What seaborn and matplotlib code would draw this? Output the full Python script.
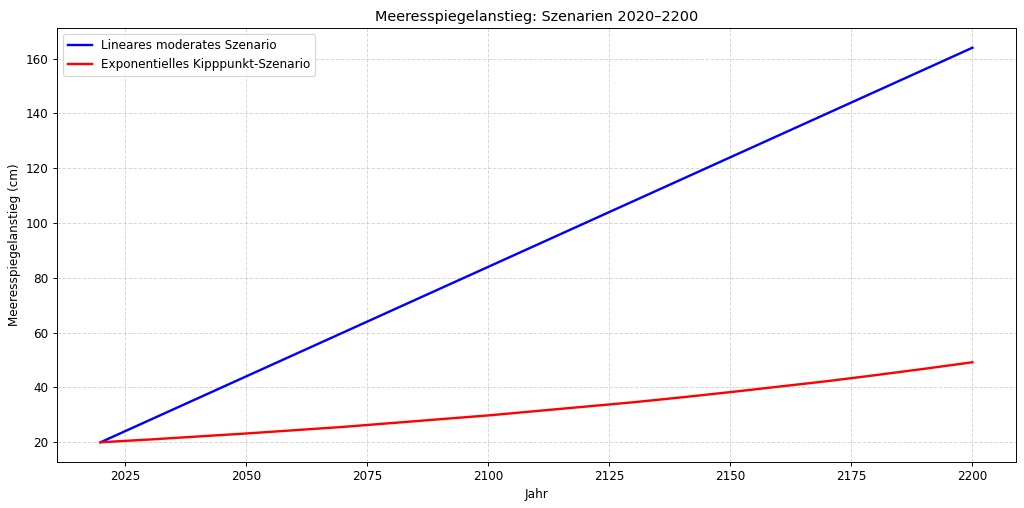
import numpy as np
import pandas as pd
import seaborn as sns
import matplotlib.pyplot as plt

jahre = [2020, 2030, 2040, 2050, 2060, 2070, 2080, 2090, 2100, 2110,
         2120, 2130, 2140, 2150, 2160, 2170, 2180, 2190, 2200]
linear_cm = [20, 28, 36, 44, 52, 60, 68, 76, 84, 92,
             100, 108, 116, 124, 132, 140, 148, 156, 164]
kipp_cm = [20.0, 21.0, 22.1, 23.2, 24.4, 25.6, 27.0, 28.4, 29.8, 31.4,
           33.0, 34.6, 36.4, 38.3, 40.3, 42.3, 44.5, 46.8, 49.2]

df = pd.DataFrame({"Jahr": jahre, "linear": linear_cm, "kipp": kipp_cm})

dpi = 86
fig, ax = plt.subplots(figsize=(1024 / dpi, 508 / dpi), dpi=dpi)
sns.lineplot(data=df, x="Jahr", y="linear", color="blue", linewidth=2,
             label="Lineares moderates Szenario", ax=ax)
sns.lineplot(data=df, x="Jahr", y="kipp", color="red", linewidth=2,
             label="Exponentielles Kipppunkt-Szenario", ax=ax)

ax.set_title("Meeresspiegelanstieg: Szenarien 2020–2200")
ax.set_xlabel("Jahr")
ax.set_ylabel("Meeresspiegelanstieg (cm)")
ax.grid(True, linestyle="--", alpha=0.5)
ax.legend(loc="upper left")

fig.subplots_adjust(left=57 / 1024, right=1016 / 1024,
                    top=1 - 28 / 508, bottom=1 - 462 / 508)
plt.savefig("out.png", dpi=dpi)
